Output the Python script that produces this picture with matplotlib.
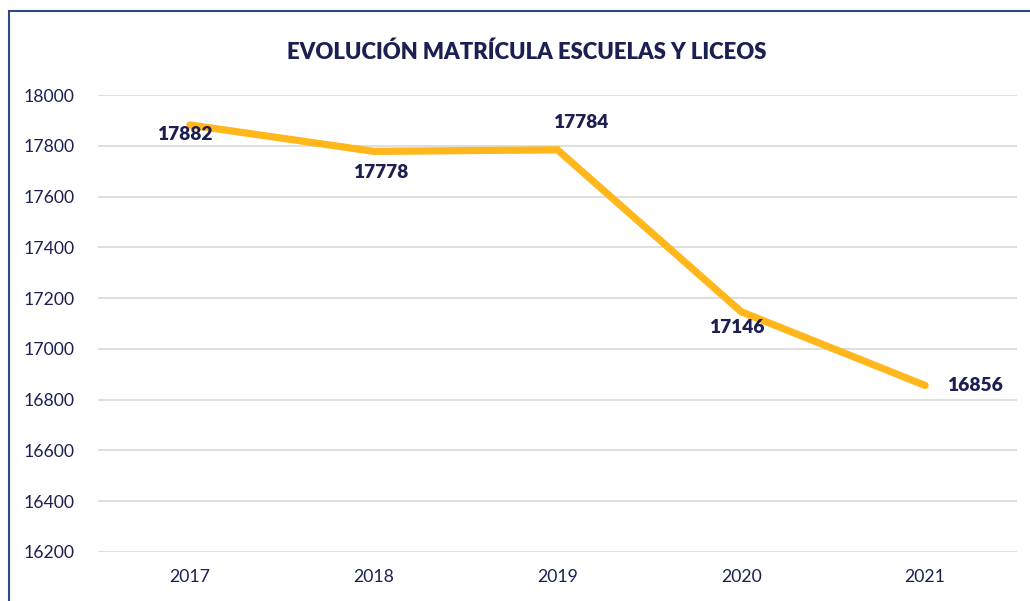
import matplotlib
matplotlib.use("Agg")
import matplotlib.pyplot as plt
from matplotlib.patches import Rectangle

years = ["2017", "2018", "2019", "2020", "2021"]
values = [17882, 17778, 17784, 17146, 16856]
yticks = [16200, 16400, 16600, 16800, 17000, 17200, 17400, 17600, 17800, 18000]
title = "EVOLUCIÓN MATRÍCULA ESCUELAS Y LICEOS"

navy = "#1b1f52"
line_color = "#FFB71B"
plt.rcParams['font.family'] = ['Lato', 'DejaVu Sans']

fig = plt.figure(figsize=(10.30, 6.01), dpi=100)
ax = fig.add_axes([98/1030, 1-552/601, (1017-98)/1030, (552-95)/601])

x = list(range(len(years)))
ax.plot(x, values, color=line_color, lw=5.2, solid_capstyle='round', solid_joinstyle='miter', zorder=3)

ax.set_xlim(-0.5, len(years) - 0.5)
ax.set_ylim(yticks[0], yticks[-1])
ax.set_yticks(yticks)
ax.set_yticklabels([str(t) for t in yticks], fontsize=12.7, color=navy)
ax.set_xticks(x)
ax.set_xticklabels(years, fontsize=12.7, color=navy)
ax.tick_params(length=0)
ax.tick_params(axis='y', pad=17)
ax.tick_params(axis='x', pad=12)
ax.grid(axis='y', color='#d9d9d9', lw=1.2)
ax.set_axisbelow(True)
for s in ax.spines.values():
    s.set_visible(False)

offsets = [(-4, -7), (5, -15), (17, 20), (-3, -11), (36, 0)]
for xi, v, off in zip(x, values, offsets):
    ax.annotate(str(v), (xi, v), xytext=off, textcoords='offset points',
                ha='center', va='center', fontsize=13.8, fontweight='heavy', color=navy)

fig.text(527/1030, 1-52/601, title, ha='center', va='center', fontsize=15.9,
         fontweight='heavy', color=navy)

fig.add_artist(Rectangle((9/1030, -0.05), 1.1, 1-11/601+0.05, transform=fig.transFigure,
                         fill=False, edgecolor='#2f4a80', lw=1.5))

fig.savefig("out.png", dpi=100)
